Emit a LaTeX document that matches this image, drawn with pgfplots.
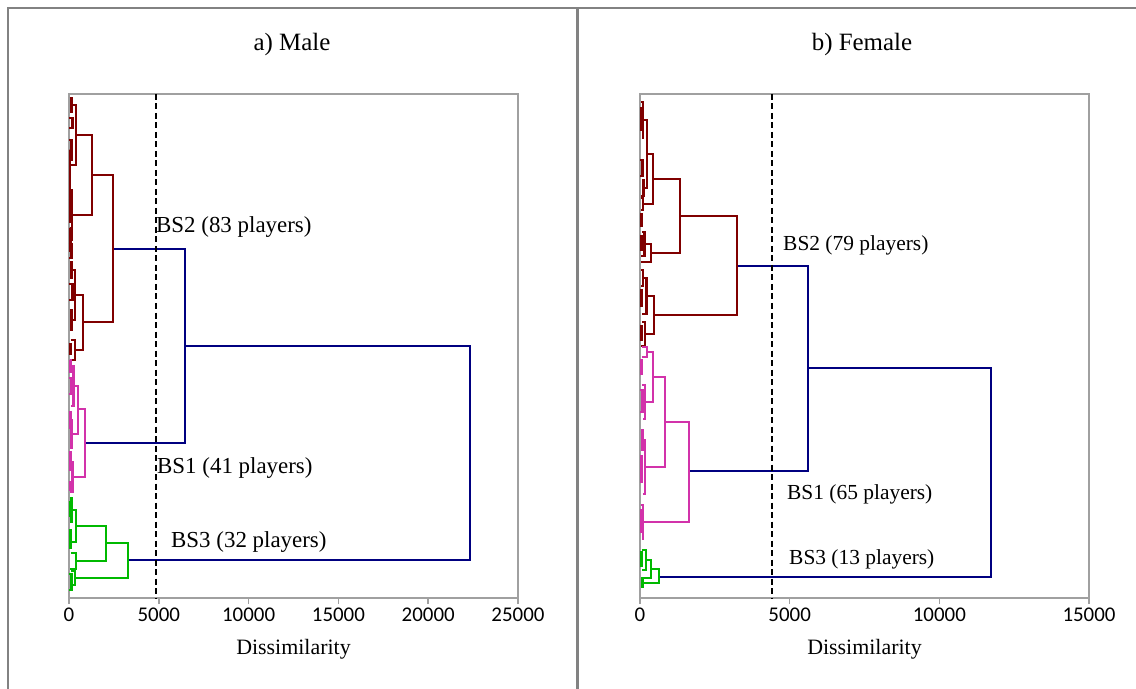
\documentclass[border=0pt]{standalone}
\usepackage{fontspec}
\setmainfont{Liberation Serif}
\newfontfamily\ticksfont{Carlito}
\usepackage{pgfplots}
\pgfplotsset{compat=1.18}
\definecolor{dred}{RGB}{128,0,0}
\definecolor{dblue}{RGB}{0,0,128}
\definecolor{dmag}{RGB}{210,50,170}
\definecolor{dgreen}{RGB}{0,185,0}
\definecolor{framegray}{RGB}{130,130,130}
\definecolor{axisgray}{RGB}{160,160,160}
\pgfplotsset{
  dendro/.style={
    scale only axis, width=449bp, height=504bp,
    ymin=94, ymax=598, y dir=reverse, xmin=0,
    ytick=\empty,
    axis line style={axisgray, line width=1.8bp},
    xtick pos=lower, tick align=outside, major tick length=6bp,
    every tick/.style={axisgray, line width=1.5bp},
    /pgf/number format/assume math mode=true,
    /pgf/number format/1000 sep={},
    scaled x ticks=false,
    xticklabel style={font=\ticksfont\fontsize{21}{24}\selectfont, text=black},
    xlabel={Dissimilarity},
    every axis x label/.style={at={(axis description cs:0.5,0)}, anchor=center, yshift=-51bp, font=\fontsize{22}{26}\selectfont},
    clip=false,
  },
  R/.style={dred, line width=2.8bp, mark=none, line join=miter},
  B/.style={dblue, line width=2.8bp, mark=none, line join=miter},
  M/.style={dmag, line width=2.8bp, mark=none, line join=miter},
  G/.style={dgreen, line width=2.8bp, mark=none, line join=miter},
  cut/.style={black, line width=2.3bp, mark=none, dash pattern=on 6bp off 3.5bp},
}
\begin{document}
\begin{tikzpicture}
\path[use as bounding box] (0,0) rectangle (1136bp,689bp);
\draw[framegray, line width=2bp] (8bp,-5bp) -- (8bp,681bp) -- (1141bp,681bp);
\draw[framegray, line width=3bp] (577bp,-5bp) -- (577bp,681bp);
\node[font=\fontsize{25}{28}\selectfont] at (292bp,644bp) {a) Male};
\node[font=\fontsize{25}{28}\selectfont] at (862bp,644bp) {b) Female};

% ---------------- Male ----------------
\begin{axis}[dendro, at={(69bp,91bp)}, anchor=south west, xmax=25000,
  xtick={0,5000,10000,15000,20000,25000}]
% blue links
\addplot[B] coordinates {(6459,346)(22328,346)(22328,560)(3285,560)};
\addplot[B] coordinates {(2450,249)(6459,249)(6459,443)(891,443)};
% BS2
\addplot[R] coordinates {(1280,175)(2450,175)(2450,322)(780,322)};
\addplot[R] coordinates {(390,135)(1280,135)(1280,215)(170,215)};
\addplot[R] coordinates {(330,295)(780,295)(780,350)(330,350)};
\addplot[R] coordinates {(120,105)(390,105)(390,165)(60,165)};
\addplot[R] coordinates {(40,98)(120,98)(120,112)(30,112)};
\addplot[R] coordinates {(30,150)(60,150)(60,180)(20,180)};
\addplot[R] coordinates {(60,190)(170,190)(170,240)(80,240)};
\addplot[R] coordinates {(20,182)(60,182)(60,198)(0,198)};
\addplot[R] coordinates {(30,228)(80,228)(80,252)(40,252)};
\addplot[R] coordinates {(150,270)(330,270)(330,320)(120,320)};
\addplot[R] coordinates {(50,262)(150,262)(150,278)(60,278)};
\addplot[R] coordinates {(40,310)(120,310)(120,330)(30,330)};
\addplot[R] coordinates {(100,340)(330,340)(330,360)(60,360)};
\addplot[R] coordinates {(0,118)(200,118)(200,128)(0,128)};
\addplot[R] coordinates {(0,140)(150,140)(150,160)(0,160)};
\addplot[R] coordinates {(0,200)(100,200)(100,222)(0,222)};
\addplot[R] coordinates {(0,244)(120,244)(120,258)(0,258)};
\addplot[R] coordinates {(0,284)(180,284)(180,300)(0,300)};
\addplot[R] coordinates {(0,344)(90,344)(90,354)(0,354)};
% BS1
\addplot[M] coordinates {(500,409)(891,409)(891,477)(200,477)};
\addplot[M] coordinates {(250,386)(500,386)(500,434)(150,434)};
\addplot[M] coordinates {(80,366)(250,366)(250,406)(100,406)};
\addplot[M] coordinates {(30,360)(80,360)(80,372)(20,372)};
\addplot[M] coordinates {(40,420)(150,420)(150,448)(60,448)};
\addplot[M] coordinates {(100,462)(200,462)(200,492)(50,492)};
\addplot[M] coordinates {(0,378)(120,378)(120,394)(0,394)};
\addplot[M] coordinates {(0,412)(80,412)(80,428)(0,428)};
\addplot[M] coordinates {(0,452)(100,452)(100,470)(0,470)};
\addplot[M] coordinates {(0,482)(60,482)(60,490)(0,490)};
% BS3
\addplot[G] coordinates {(2060,543)(3285,543)(3285,578)(330,578)};
\addplot[G] coordinates {(390,526)(2060,526)(2060,561)(390,561)};
\addplot[G] coordinates {(150,510)(390,510)(390,542)(100,542)};
\addplot[G] coordinates {(40,498)(150,498)(150,522)(60,522)};
\addplot[G] coordinates {(100,553)(390,553)(390,569)(80,569)};
\addplot[G] coordinates {(100,571)(330,571)(330,585)(60,585)};
\addplot[G] coordinates {(0,502)(100,502)(100,516)(0,516)};
\addplot[G] coordinates {(0,530)(80,530)(80,548)(0,548)};
\addplot[G] coordinates {(0,574)(120,574)(120,590)(0,590)};
% cut line
\addplot[cut] coordinates {(4850,94)(4850,598)};
\node[anchor=west, font=\fontsize{23}{26}\selectfont, inner sep=0pt] at (axis cs:4844,227) {BS2 (83 players)};
\node[anchor=west, font=\fontsize{23}{26}\selectfont, inner sep=0pt] at (axis cs:4900,468) {BS1 (41 players)};
\node[anchor=west, font=\fontsize{23}{26}\selectfont, inner sep=0pt] at (axis cs:5680,542) {BS3 (32 players)};
\end{axis}

% ---------------- Female ----------------
\begin{axis}[dendro, at={(640bp,91bp)}, anchor=south west, xmax=15000,
  xtick={0,5000,10000,15000}]
% blue links
\addplot[B] coordinates {(5613,368)(11727,368)(11727,577)(635,577)};
\addplot[B] coordinates {(3241,266)(5613,266)(5613,471)(1637,471)};
% BS2
\addplot[R] coordinates {(1336,216)(3241,216)(3241,315)(468,315)};
\addplot[R] coordinates {(434,179)(1336,179)(1336,253)(367,253)};
\addplot[R] coordinates {(234,154)(434,154)(434,204)(100,204)};
\addplot[R] coordinates {(150,244)(367,244)(367,262)(30,262)};
\addplot[R] coordinates {(230,296)(468,296)(468,334)(170,334)};
\addplot[R] coordinates {(100,120)(234,120)(234,188)(120,188)};
\addplot[R] coordinates {(40,102)(100,102)(100,138)(50,138)};
\addplot[R] coordinates {(60,180)(120,180)(120,196)(40,196)};
\addplot[R] coordinates {(30,198)(100,198)(100,210)(20,210)};
\addplot[R] coordinates {(60,232)(150,232)(150,256)(40,256)};
\addplot[R] coordinates {(100,278)(230,278)(230,314)(60,314)};
\addplot[R] coordinates {(30,270)(100,270)(100,286)(40,286)};
\addplot[R] coordinates {(80,322)(170,322)(170,346)(30,346)};
\addplot[R] coordinates {(0,108)(60,108)(60,130)(0,130)};
\addplot[R] coordinates {(0,160)(80,160)(80,176)(0,176)};
\addplot[R] coordinates {(0,214)(40,214)(40,226)(0,226)};
\addplot[R] coordinates {(0,236)(60,236)(60,250)(0,250)};
\addplot[R] coordinates {(0,290)(50,290)(50,306)(0,306)};
\addplot[R] coordinates {(0,326)(60,326)(60,340)(0,340)};
% BS1
\addplot[M] coordinates {(835,422)(1637,422)(1637,522)(100,522)};
\addplot[M] coordinates {(434,377)(835,377)(835,467)(167,467)};
\addplot[M] coordinates {(234,352)(434,352)(434,402)(170,402)};
\addplot[M] coordinates {(50,347)(234,347)(234,357)(80,357)};
\addplot[M] coordinates {(60,385)(170,385)(170,419)(90,419)};
\addplot[M] coordinates {(90,440)(167,440)(167,494)(100,494)};
\addplot[M] coordinates {(40,505)(100,505)(100,539)(60,539)};
\addplot[M] coordinates {(30,430)(90,430)(90,450)(40,450)};
\addplot[M] coordinates {(0,360)(60,360)(60,374)(0,374)};
\addplot[M] coordinates {(0,390)(70,390)(70,412)(0,412)};
\addplot[M] coordinates {(0,456)(60,456)(60,482)(0,482)};
\addplot[M] coordinates {(0,510)(50,510)(50,532)(0,532)};
% BS3
\addplot[G] coordinates {(367,569)(635,569)(635,583)(70,583)};
\addplot[G] coordinates {(200,560)(367,560)(367,578)(30,578)};
\addplot[G] coordinates {(60,550)(200,550)(200,570)(80,570)};
\addplot[G] coordinates {(30,579)(70,579)(70,587)(20,587)};
\addplot[G] coordinates {(0,552)(40,552)(40,566)(0,566)};
% cut line
\addplot[cut] coordinates {(4400,94)(4400,598)};
\node[anchor=west, font=\fontsize{21.5}{25}\selectfont, inner sep=0pt] at (axis cs:4778,245) {BS2 (79 players)};
\node[anchor=west, font=\fontsize{21.5}{25}\selectfont, inner sep=0pt] at (axis cs:4911,494) {BS1 (65 players)};
\node[anchor=west, font=\fontsize{21.5}{25}\selectfont, inner sep=0pt] at (axis cs:4978,559) {BS3 (13 players)};
\end{axis}
\end{tikzpicture}
\end{document}
